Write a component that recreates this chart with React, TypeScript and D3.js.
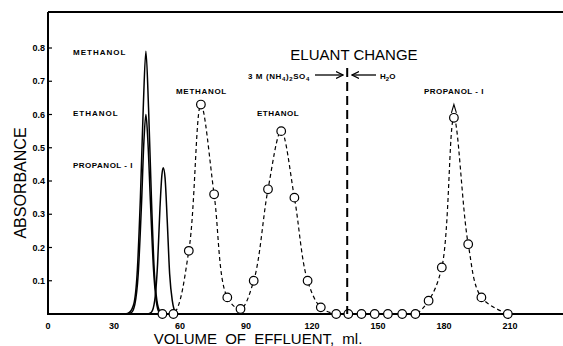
import React from "react";
import * as d3 from "d3";

// Solid-line peaks (continuous recording), volume ml vs absorbance
const methanolSolid: [number, number][] = [
  [35, 0], [37, 0.005], [39, 0.03], [40.5, 0.12], [42, 0.35], [43.3, 0.62], [44.5, 0.79],
  [45.7, 0.62], [47, 0.35], [48.3, 0.13], [49.5, 0.04], [51, 0.005], [52, 0],
];
const ethanolSolid: [number, number][] = [
  [36, 0], [38, 0.005], [39.5, 0.03], [41, 0.12], [42.5, 0.33], [43.6, 0.52], [44.5, 0.6],
  [45.4, 0.52], [46.6, 0.33], [48, 0.13], [49.2, 0.04], [50.5, 0.005], [52, 0],
];
const propanolSolid: [number, number][] = [
  [45.5, 0], [47, 0.005], [48.5, 0.04], [49.8, 0.15], [50.9, 0.32], [51.8, 0.42], [52.4, 0.44],
  [53.2, 0.41], [54.2, 0.28], [55.3, 0.12], [56.5, 0.04], [58, 0.005], [59.5, 0],
];

// Fraction-collected points (dashed line with circles)
const fractionVolume = [52, 57, 64, 69.5, 75.5, 81.5, 87.5, 93.5, 100, 106, 112, 118, 124, 131, 136.5, 142.5, 148.5, 154.5, 161, 167, 173, 179, 184.5, 191, 197, 209];
const fractionAbs = [0, 0, 0.19, 0.63, 0.36, 0.05, 0.015, 0.1, 0.375, 0.55, 0.35, 0.1, 0.02, 0, 0, 0, 0, 0, 0, 0, 0.04, 0.14, 0.59, 0.21, 0.05, 0];

const xTicks = [0, 30, 60, 90, 120, 150, 180, 210];
const yTicks = [0.1, 0.2, 0.3, 0.4, 0.5, 0.6, 0.7, 0.8];
const eluantChangeVolume = 136;

export default function App() {
  const W = 563, H = 346;
  const x = d3.scaleLinear().domain([0, 210]).range([48, 510]);
  const y = d3.scaleLinear().domain([0, 0.8]).range([314, 48]);
  const solid = d3.line<[number, number]>().x(d => x(d[0])).y(d => y(d[1])).curve(d3.curveMonotoneX);
  const pts: [number, number][] = fractionVolume.map((v, i) => [v, fractionAbs[i]]);
  const dashed = d3.line<[number, number]>().x(d => x(d[0])).y(d => y(d[1])).curve(d3.curveCatmullRom.alpha(0.5));
  const small: React.CSSProperties = { fontFamily: "Liberation Sans, Arial, sans-serif", fontWeight: 700, fontSize: 8 };
  const tick: React.CSSProperties = { ...small, fontSize: 9 };
  const big: React.CSSProperties = { fontFamily: "Liberation Sans, Arial, sans-serif", fontSize: 15 };
  const xe = x(eluantChangeVolume);
  const peakX = x(184.5);
  return (
    <svg width={W} height={H} style={{ position: "absolute", left: 0, top: 0, background: "#fff" }}>
      <defs>
        <marker id="ah" markerWidth="8" markerHeight="8" refX="7" refY="4" orient="auto" markerUnits="userSpaceOnUse">
          <path d="M0,0.5 L7,4 L0,7.5" fill="none" stroke="#000" strokeWidth={1.2} />
        </marker>
      </defs>
      {/* frame */}
      <line x1={48} x2={563} y1={12} y2={12} stroke="#000" strokeWidth={2} />
      <line x1={48} x2={48} y1={12} y2={315} stroke="#000" strokeWidth={2} />
      <line x1={47} x2={563} y1={314} y2={314} stroke="#000" strokeWidth={2} />
      {yTicks.map(t => (
        <g key={t}>
          <line x1={48} x2={52} y1={y(t)} y2={y(t)} stroke="#000" strokeWidth={1.2} />
          <text x={45} y={y(t) + 3} textAnchor="end" style={tick}>{t.toFixed(1)}</text>
        </g>
      ))}
      {xTicks.map(t => (
        <text key={t} x={x(t)} y={329} textAnchor="middle" style={tick}>{t}</text>
      ))}
      <text transform={`translate(26,183) rotate(-90)`} textAnchor="middle" style={{ ...big, fontSize: 16 }}>ABSORBANCE</text>
      <text x={258} y={344} textAnchor="middle" style={{ ...big, wordSpacing: 4 }}>VOLUME OF EFFLUENT, ml.</text>

      {/* solid peaks */}
      <path d={solid(methanolSolid) || ""} fill="none" stroke="#000" strokeWidth={1.5} />
      <path d={solid(ethanolSolid) || ""} fill="none" stroke="#000" strokeWidth={1.5} />
      <path d={solid(propanolSolid) || ""} fill="none" stroke="#000" strokeWidth={1.5} />

      {/* dashed fraction curve */}
      <path d={dashed(pts) || ""} fill="none" stroke="#000" strokeWidth={1.2} strokeDasharray="4,3" />
      {pts.map((p, i) => (
        <circle key={i} cx={x(p[0])} cy={y(p[1])} r={4.3} fill="#fff" stroke="#000" strokeWidth={1.2} />
      ))}
      <path d={`M${peakX - 2.5},${y(0.605)} L${peakX},${y(0.63)} L${peakX + 2.5},${y(0.605)}`} fill="none" stroke="#000" strokeWidth={1.1} />

      {/* eluant change */}
      <line x1={xe} x2={xe} y1={68} y2={314} stroke="#000" strokeWidth={2} strokeDasharray="9,5" />
      <text x={354} y={60} textAnchor="middle" style={big}>ELUANT CHANGE</text>
      <text x={248} y={79} style={{ ...small, letterSpacing: 0.6 }}>
        3 M (NH<tspan dy={2} fontSize={6}>4</tspan><tspan dy={-2}>)</tspan><tspan dy={2} fontSize={6}>2</tspan><tspan dy={-2}>SO</tspan><tspan dy={2} fontSize={6}>4</tspan>
      </text>
      <line x1={315} x2={343} y1={75} y2={75} stroke="#000" strokeWidth={1.3} markerEnd="url(#ah)" />
      <line x1={376} x2={352} y1={75} y2={75} stroke="#000" strokeWidth={1.3} markerEnd="url(#ah)" />
      <text x={380} y={79} style={small}>
        H<tspan dy={2} fontSize={6}>2</tspan><tspan dy={-2}>O</tspan>
      </text>

      {/* peak labels */}
      <text x={73} y={55} style={{ ...small, letterSpacing: 1 }}>METHANOL</text>
      <text x={73} y={116} style={{ ...small, letterSpacing: 1 }}>ETHANOL</text>
      <text x={73} y={168} style={{ ...small, letterSpacing: 0.5 }}>PROPANOL - I</text>
      <text x={176} y={94} style={{ ...small, letterSpacing: 0.7 }}>METHANOL</text>
      <text x={257} y={116} style={{ ...small, letterSpacing: 0.5 }}>ETHANOL</text>
      <text x={424} y={94} style={{ ...small, letterSpacing: 0.5 }}>PROPANOL - I</text>
    </svg>
  );
}
